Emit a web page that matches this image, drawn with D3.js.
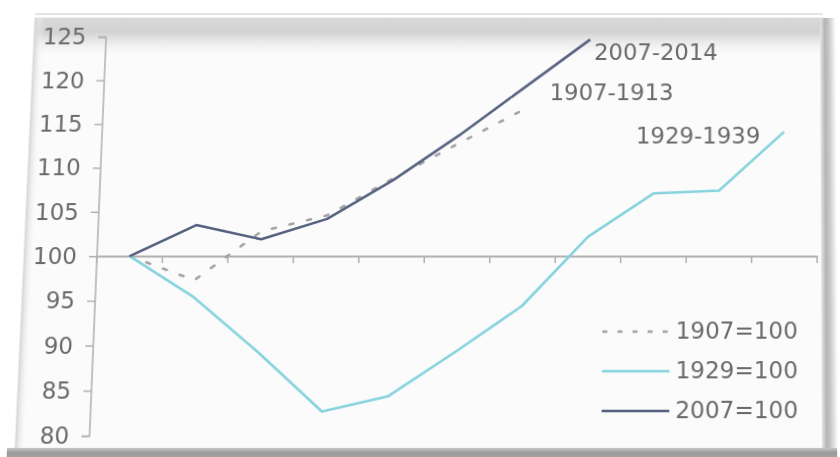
<!DOCTYPE html>
<html>
<head>
<meta charset="utf-8">
<script src="https://cdn.jsdelivr.net/npm/d3@7"></script>
<style>
  html, body { margin: 0; padding: 0; background: #ffffff; overflow: hidden; }
  #wrap { position: absolute; left: 0; top: 0; width: 840px; height: 457px; transform-origin: 0 0; }
  svg { display: block; }
</style>
</head>
<body>
<div id="wrap"></div>
<script>
// ---- data ----
const categories = ["0", "1", "2", "3", "4", "5", "6", "7", "8", "9", "10"]; // years since base year
const values1907 = [100, 97.3, 102.8, 104.6, 108.8, 112.8, 116.7];
const values1929 = [100, 95.4, 89.3, 82.7, 84.4, 89.3, 94.4, 102.2, 107.1, 107.4, 114.1];
const values2007 = [100, 103.5, 101.9, 104.2, 108.6, 113.7, 119.2, 124.7];
const seriesNames = ["1907-1913", "1929-1939", "2007-2014"];
const legendLabels = ["1907=100", "1929=100", "2007=100"];
const yTicks = [80, 85, 90, 95, 100, 105, 110, 115, 120, 125];

// ---- layout ----
const W = 840, H = 457;
const frame = { x0: 24, y0: 18, x1: 824, y1: 451 };
const plot = { left: 97, right: 817, top: 37.5, bottom: 436.4 };
const font = "'DejaVu Sans', Verdana, sans-serif";
const textColor = "#6a6a6a";
const axisColor = "#b0b0b0";
const col1907 = "#a3a3a3", col1929 = "#86d3de", col2007 = "#566180";

const svg = d3.select("#wrap").append("svg").attr("width", W).attr("height", H);
const defs = svg.append("defs");

function vGrad(id, stops) {
  const g = defs.append("linearGradient").attr("id", id).attr("x1", 0).attr("y1", 0).attr("x2", 0).attr("y2", 1);
  stops.forEach(s => g.append("stop").attr("offset", s[0]).attr("stop-color", s[1]).attr("stop-opacity", s[2] == null ? 1 : s[2]));
}
function hGrad(id, stops) {
  const g = defs.append("linearGradient").attr("id", id).attr("x1", 0).attr("y1", 0).attr("x2", 1).attr("y2", 0);
  stops.forEach(s => g.append("stop").attr("offset", s[0]).attr("stop-color", s[1]).attr("stop-opacity", s[2] == null ? 1 : s[2]));
}
vGrad("topShade", [[0, "#d9d9d9"], [0.35, "#d2d2d2"], [1, "#fafafa", 0]]);
hGrad("leftShade", [[0, "#d5d5d5"], [1, "#fafafa", 0]]);
hGrad("rightShade", [[0, "#e6e6e6"], [0.3, "#b4b4b4"], [0.55, "#c8c8c8"], [1, "#ffffff"]]);
vGrad("bottomShade", [[0, "#c8c8c8"], [0.4, "#9a9a9a"], [1, "#a8a8a8"]]);

// frame / picture effect
svg.append("line").attr("x1", frame.x0).attr("x2", frame.x1).attr("y1", 14).attr("y2", 14)
  .attr("stroke", "#e3e3e3").attr("stroke-width", 2);
svg.append("rect").attr("x", frame.x0).attr("y", frame.y0)
  .attr("width", frame.x1 - frame.x0).attr("height", frame.y1 - frame.y0)
  .attr("fill", "#fbfbfb").attr("stroke", "#e2e2e2").attr("stroke-width", 1);
svg.append("rect").attr("x", frame.x0).attr("y", frame.y0)
  .attr("width", frame.x1 - frame.x0).attr("height", 42).attr("fill", "url(#topShade)");
svg.append("rect").attr("x", frame.x0).attr("y", frame.y0)
  .attr("width", 10).attr("height", frame.y1 - frame.y0).attr("fill", "url(#leftShade)");
svg.append("rect").attr("x", frame.x1 - 3).attr("y", frame.y0)
  .attr("width", 16).attr("height", frame.y1 - frame.y0 + 6).attr("fill", "url(#rightShade)");
svg.append("rect").attr("x", frame.x0 - 8).attr("y", frame.y1 - 3)
  .attr("width", frame.x1 - frame.x0 + 20).attr("height", 12).attr("fill", "url(#bottomShade)");

// ---- scales ----
const x = d3.scaleBand().domain(categories).range([plot.left, plot.right]).paddingInner(0).paddingOuter(0);
const y = d3.scaleLinear().domain([80, 125]).range([plot.bottom, plot.top]);
const cx = i => x(categories[i]) + x.bandwidth() / 2;

// y axis
const yAxis = d3.axisLeft(y).tickValues(yTicks).tickSize(8).tickPadding(12).tickFormat(d3.format("d"));
const gy = svg.append("g").attr("transform", `translate(${plot.left},0)`).call(yAxis);
gy.select(".domain").attr("stroke", axisColor).attr("stroke-width", 1.5).attr("d", `M-8,${y(80)}H0V${y(125)}H-8`);
gy.selectAll(".tick line").attr("stroke", axisColor).attr("stroke-width", 1.5);
gy.selectAll(".tick text").attr("fill", textColor).style("font-family", font).style("font-size", "23px");

// x axis at 100 (ticks between categories, no labels)
const xAxis = d3.axisBottom(x).tickSize(0).tickFormat("");
const gx = svg.append("g").attr("transform", `translate(0,${y(100)})`).call(xAxis);
gx.select(".domain").attr("stroke", axisColor).attr("stroke-width", 2);
gx.selectAll(".tick").remove();
const boundaries = categories.map((c, i) => x(c)).concat([x(categories[categories.length - 1]) + x.bandwidth()]);
gx.selectAll("line.bt").data(boundaries).enter().append("line").attr("class", "bt")
  .attr("x1", d => d).attr("x2", d => d).attr("y1", 0).attr("y2", 7)
  .attr("stroke", axisColor).attr("stroke-width", 1.5);

// ---- lines ----
const lineGen = d3.line().x((d, i) => cx(i)).y(d => y(d));
svg.append("path").datum(values1907).attr("d", lineGen).attr("fill", "none")
  .attr("stroke", col1907).attr("stroke-width", 2.6).attr("stroke-dasharray", "4,14").attr("stroke-linecap", "round");
svg.append("path").datum(values1929).attr("d", lineGen).attr("fill", "none")
  .attr("stroke", col1929).attr("stroke-width", 2.6).attr("stroke-linejoin", "round");
svg.append("path").datum(values2007).attr("d", lineGen).attr("fill", "none")
  .attr("stroke", col2007).attr("stroke-width", 2.6).attr("stroke-linejoin", "round");

// ---- series labels ----
const lastIdx = a => a.length - 1;
const lbl = svg.append("g").style("font-family", font).style("font-size", "23px").attr("fill", textColor);
lbl.append("text").attr("x", cx(lastIdx(values2007)) + 4).attr("y", y(values2007[lastIdx(values2007)]) + 21).text(seriesNames[2]);
lbl.append("text").attr("x", cx(lastIdx(values1907)) + 25).attr("y", y(values1907[lastIdx(values1907)]) - 9).text(seriesNames[0]);
lbl.append("text").attr("x", cx(lastIdx(values1929)) - 24).attr("y", y(values1929[lastIdx(values1929)]) + 12)
  .attr("text-anchor", "end").text(seriesNames[1]);

// ---- legend ----
const legendItems = [
  { label: legendLabels[0], color: col1907, dash: "5,10" },
  { label: legendLabels[1], color: col1929, dash: null },
  { label: legendLabels[2], color: col2007, dash: null }
];
const lg = svg.append("g").attr("transform", "translate(603,334)");
legendItems.forEach((it, i) => {
  const row = lg.append("g").attr("transform", `translate(0,${i * 39})`);
  row.append("line").attr("x1", 0).attr("x2", 67).attr("y1", 0).attr("y2", 0)
    .attr("stroke", it.color).attr("stroke-width", 2.6).attr("stroke-dasharray", it.dash);
  row.append("text").attr("x", 73).attr("y", 7).attr("fill", textColor)
    .style("font-family", font).style("font-size", "23px").text(it.label);
});

// ---- slight perspective of the photographed chart (homography: frame rect -> quad) ----
(function () {
  const q = [[35, 18], [823, 18], [825, 451], [15, 451]]; // TL, TR, BR, BL
  const [x0, y0] = q[0], [x1, y1] = q[1], [x2, y2] = q[2], [x3, y3] = q[3];
  const dx1 = x1 - x2, dx2 = x3 - x2, dx3 = x0 - x1 + x2 - x3;
  const dy1 = y1 - y2, dy2 = y3 - y2, dy3 = y0 - y1 + y2 - y3;
  const den = dx1 * dy2 - dx2 * dy1;
  const g = (dx3 * dy2 - dx2 * dy3) / den;
  const h = (dx1 * dy3 - dx3 * dy1) / den;
  const a = x1 - x0 + g * x1, b = x3 - x0 + h * x3, c = x0;
  const d = y1 - y0 + g * y1, e = y3 - y0 + h * y3, f = y0;
  const Wf = frame.x1 - frame.x0, Hf = frame.y1 - frame.y0, X0 = frame.x0, Y0 = frame.y0;
  const m11 = a / Wf, m12 = b / Hf, m13 = -a * X0 / Wf - b * Y0 / Hf + c;
  const m21 = d / Wf, m22 = e / Hf, m23 = -d * X0 / Wf - e * Y0 / Hf + f;
  const m31 = g / Wf, m32 = h / Hf, m33 = -g * X0 / Wf - h * Y0 / Hf + 1;
  const m = [m11, m21, 0, m31, m12, m22, 0, m32, 0, 0, 1, 0, m13, m23, 0, m33];
  document.getElementById("wrap").style.transform = `matrix3d(${m.join(",")})`;
})();
</script>
</body>
</html>
